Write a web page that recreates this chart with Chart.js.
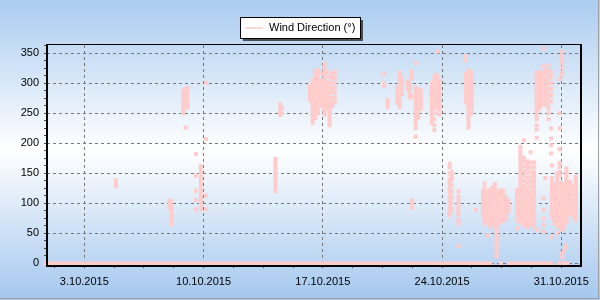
<!DOCTYPE html>
<html>
<head>
<meta charset="utf-8">
<script src="https://cdn.jsdelivr.net/npm/chart.js@4.4.1/dist/chart.umd.min.js"></script>
<style>
  html, body { margin: 0; padding: 0; background: #fff; }
  canvas { display: block; }
</style>
</head>
<body>
<canvas id="chart" width="600" height="300"></canvas>
<script>
// x = day of October 2015 (3 -> 3.10.2015 00:00)
const dateTicks = [3, 10, 17, 24, 31];
const dateLabels = ['3.10.2015', '10.10.2015', '17.10.2015', '24.10.2015', '31.10.2015'];
const directionTicks = [0, 50, 100, 150, 200, 250, 300, 350];
const seriesName = 'Wind Direction (°)';

// stretches where the vane reported 0°
const zeroRuns = [[0.5, 26.96], [27.32, 27.55], [27.81, 30.55], [30.73, 31.51]];

// readings grouped by time: [day, [degrees, ...]]
const firstHalf = [
    [4.85, [138, 133, 128]],
    [8.0, [104, 98, 92]],
    [8.1, [104, 98, 92, 86, 80, 74, 68, 65]],
    [8.8, [288, 282, 275, 268, 262, 255, 250]],
    [8.9, [290, 284, 278, 270, 264, 258]],
    [8.95, [226]],
    [9.05, [292, 286, 280, 273, 266, 260]],
    [9.55, [182, 146, 121, 105, 90]],
    [9.84, [162, 156, 150, 144, 138, 132, 126, 120, 114, 108, 102, 96, 90]],
    [10.14, [301, 207, 113, 90]],
    [14.22, [174, 168, 162, 156, 150, 144, 138, 132, 126, 120]],
    [14.5, [265, 259, 253, 247]],
    [14.6, [258, 250]],
    [16.25, [296, 290, 284, 278, 272]],
    [16.4, [306, 300, 294, 288, 282, 276, 270, 264, 258, 252, 246, 240, 234]],
    [16.55, [320, 314, 308, 302, 296, 290, 284, 278, 272, 266, 260, 254, 248, 242]],
    [16.7, [322, 316, 310, 304, 298, 292, 286, 280, 274, 268, 262, 256, 250]],
    [16.9, [316, 304, 298, 292, 286, 280, 274, 268, 262]],
    [17.1, [332, 326, 320, 314, 308, 302, 296, 290, 284, 278, 272, 266, 260, 254, 248]],
    [17.25, [318, 300, 294, 288, 282, 276, 270, 264, 258]],
    [17.4, [310, 300, 292, 284, 276, 270, 264, 258, 252, 246, 240, 234, 230]],
    [17.55, [316, 308, 300, 292, 286, 276, 268, 262]],
    [17.7, [320, 314, 308, 300, 292, 284, 276, 268]]
];

const secondHalf = [
    [20.6, [316, 300, 296]],
    [20.8, [272, 266, 260]],
    [21.38, [292, 286, 280, 274, 268]],
    [21.5, [318, 312, 306, 300, 294, 288, 282, 276, 270, 264, 260]],
    [21.65, [310, 304, 298, 290, 282]],
    [22.0, [303, 297, 290]],
    [22.1, [300, 295, 288, 282, 276]],
    [22.2, [320, 314, 308, 278]],
    [22.25, [105, 99, 92]],
    [22.45, [292, 286, 280, 274, 268, 262, 256, 250, 244, 238, 232, 225, 211]],
    [22.49, [334]],
    [22.6, [290, 284, 278, 272, 266, 260, 254, 248, 242]],
    [22.75, [288, 282, 276, 270, 264, 258]],
    [23.4, [300, 294, 288, 282, 276, 270, 264, 258, 252, 246, 240, 234]],
    [23.55, [312, 306, 300, 294, 288, 282, 276, 270, 264, 258, 250, 240, 230, 222]],
    [23.7, [314, 308, 302, 296, 290, 284, 278, 272, 266, 260]],
    [23.76, [353]],
    [23.85, [304, 298, 292, 286, 280, 274, 268, 262, 256, 248]],
    [24.45, [166, 160, 150, 140, 134, 128, 122, 116, 110, 104, 98, 92, 86, 80]],
    [24.58, [152, 146, 140, 130, 120, 110, 100, 90]],
    [24.96, [120, 111, 105, 99, 93, 87, 81, 72, 66, 29]],
    [25.4, [345, 338, 316, 310, 304, 298, 292, 286, 280, 274, 268]],
    [25.55, [322, 316, 310, 304, 298, 292, 286, 280, 274, 268, 262, 256, 250, 244, 238, 232, 226]],
    [25.75, [318, 312, 306, 300, 294, 288, 282, 276, 270, 264, 258, 250]],
    [25.98, [89]],
    [26.4, [120, 114, 108, 102, 96, 90, 84, 78]],
    [26.5, [133, 126, 120, 114, 108, 102, 96, 90, 84, 78, 72, 66]],
    [26.65, [118, 112, 106, 100, 94, 88, 82, 76, 70, 47]],
    [26.8, [122, 116, 110, 104, 98, 92, 86, 80, 74, 68, 62]],
    [26.95, [126, 120, 114, 108, 102, 96, 90, 84, 78, 72, 66]],
    [27.1, [132, 126, 120, 114, 108, 102, 96, 90, 84, 78, 72, 66, 60]],
    [27.2, [62, 56, 50, 44, 38, 33, 28, 22, 16, 11]],
    [27.3, [120, 114, 108, 102, 96, 90, 84, 78, 72, 66]],
    [27.45, [122, 116, 110, 104, 98, 92, 86, 80, 74, 68]],
    [27.6, [120, 114, 108, 102, 96, 90, 84, 78, 72]],
    [27.75, [110, 104, 98, 92, 86, 80, 74]],
    [27.9, [104, 98, 92, 86]],
    [28.4, [122, 116, 110, 104, 98, 92, 86, 80, 72, 58]],
    [28.6, [194, 188, 182, 176, 170, 164, 158, 152, 146, 140, 134, 128, 122, 116, 110, 104, 98, 92, 86, 80, 74, 68]],
    [28.8, [205, 176, 170, 162, 154, 146, 138, 130, 124, 118, 112, 106, 100, 94, 88, 82, 76, 70, 64]],
    [29.0, [170, 164, 158, 150, 142, 134, 126, 120, 114, 108, 102, 96, 90, 84, 78, 72, 66, 60]],
    [29.2, [185, 168, 160, 152, 144, 136, 128, 120, 112, 106, 100, 94, 88, 82, 76, 70, 64]],
    [29.4, [168, 160, 152, 146, 140, 134, 128, 122, 116, 110, 104, 98, 92, 86, 80, 74, 68, 62]],
    [29.55, [318, 312, 306, 300, 294, 288, 282, 276, 270, 264, 258, 252, 246, 240, 230, 223, 209, 56]],
    [29.7, [318, 312, 306, 300, 294, 288, 282, 276, 270, 264, 258]],
    [29.85, [318, 312, 306, 300, 294, 288, 282, 276, 270, 264]],
    [29.96, [358, 328, 316, 308, 300, 292, 284, 276, 268, 108, 89, 75, 64, 53]],
    [30.05, [142]],
    [30.1, [320, 312, 304, 296, 288, 280, 272, 264]],
    [30.25, [330, 322, 314, 306, 298, 290, 282, 274, 266, 258, 250, 240]],
    [30.4, [318, 310, 300, 290, 280, 270, 225, 208, 197, 183]],
    [30.45, [163, 142, 136, 130, 124, 118, 112, 106, 100, 94, 88, 82, 78, 44]],
    [30.6, [132, 126, 120, 114, 108, 102, 96, 90, 84, 78, 72, 66]],
    [30.75, [150, 144, 138, 132, 126, 120, 114, 108, 102, 96, 90, 84, 78, 72, 66, 61, 50]],
    [30.9, [307, 250, 225, 190, 167, 160, 152, 146]],
    [31.0, [134, 128, 122, 116, 110, 104, 98, 92, 86, 80, 74, 68, 62, 56]],
    [31.05, [353, 346, 340, 334, 326, 318, 314, 10, 16]],
    [31.15, [130, 124, 118, 112, 106, 100, 94, 88, 82, 76, 70, 64, 58, 20]],
    [31.25, [26, 30]],
    [31.3, [158, 152, 146, 140, 134, 128, 122, 116, 110, 104, 98, 92, 86, 80, 74, 68]],
    [31.5, [136, 130, 124, 118, 112, 106, 100, 94, 88, 82]],
    [31.7, [130, 122, 114, 106, 98, 90, 84, 78]],
    [31.85, [144, 138, 132, 126, 120, 114, 108, 102, 96, 90, 84, 78, 72]]
];

const pink = 'rgb(255, 204, 204)';
const X_MIN = 0.81, X_MAX = 32.155;
const Y_MIN = -2.83, Y_MAX = 363.8;

var points = [];
firstHalf.concat(secondHalf).forEach(function (col) {
    col[1].forEach(function (v) { points.push({x: col[0], y: v}); });
});

var zeroLine = [];
zeroRuns.forEach(function (run) {
    zeroLine.push({x: run[0], y: 0}, {x: run[1], y: 0}, {x: run[1], y: null});
});

// 4 sub-divisions between labelled ticks
var xTickValues = [];
for (var v = dateTicks[0] - 1.75; v <= X_MAX; v += 1.75) xTickValues.push(v);
var yTickValues = [];
for (var w = 0; w <= Y_MAX; w += 12.5) yTickValues.push(w);

Chart.defaults.font.family = '"Liberation Sans", Arial, sans-serif';
Chart.defaults.font.size = 11;
Chart.defaults.color = '#000';

// background gradient, plot frame and the boxed legend
var decor = {
    id: 'decor',
    beforeDraw: function (chart) {
        var ctx = chart.ctx;
        var g = ctx.createLinearGradient(0, 0, 0, 300);
        g.addColorStop(0, 'rgb(170, 204, 240)');
        g.addColorStop(0.5, 'rgb(255, 255, 255)');
        g.addColorStop(1, 'rgb(164, 199, 238)');
        ctx.save();
        ctx.fillStyle = g;
        ctx.fillRect(0, 0, 600, 300);
        ctx.restore();
    },
    afterDraw: function (chart) {
        var ctx = chart.ctx, a = chart.chartArea;
        ctx.save();
        ctx.fillStyle = '#000';
        ctx.fillRect(a.left - 1, a.top - 1, a.right - a.left + 2, 1);   // top
        ctx.fillRect(a.left - 1, a.top - 1, 2, a.bottom - a.top + 2);   // left
        ctx.fillRect(a.right - 1, a.top - 1, 2, a.bottom - a.top + 2);  // right
        ctx.fillRect(a.left - 1, a.bottom, a.right - a.left + 2, 2);    // bottom

        // legend box
        ctx.fillStyle = 'rgba(40, 40, 40, 0.8)';
        ctx.fillRect(243, 20, 120, 21);
        ctx.fillStyle = '#fff';
        ctx.fillRect(240, 17, 120, 21);
        ctx.strokeStyle = '#000';
        ctx.lineWidth = 1;
        ctx.strokeRect(240.5, 17.5, 120, 21);
        ctx.strokeStyle = pink;
        ctx.lineWidth = 1.5;
        ctx.beginPath();
        ctx.moveTo(245, 28);
        ctx.lineTo(263, 28);
        ctx.stroke();
        ctx.fillStyle = '#000';
        ctx.font = '11px "Liberation Sans", Arial, sans-serif';
        ctx.textBaseline = 'middle';
        ctx.fillText(seriesName, 269, 28);

        // outer frame
        ctx.fillStyle = 'rgb(160, 160, 160)';
        ctx.fillRect(598, 0, 1, 299);
        ctx.fillRect(0, 298, 599, 1);
        ctx.restore();
    }
};

var ctx = document.getElementById('chart').getContext('2d');
new Chart(ctx, {
    type: 'scatter',
    data: {
        datasets: [
            {
                label: seriesName,
                data: points,
                order: 0,
                pointStyle: 'rect',
                pointRadius: 2.83,
                pointBorderWidth: 0,
                backgroundColor: pink,
                borderColor: pink,
                showLine: false
            },
            {
                type: 'line',
                label: 'zero',
                data: zeroLine,
                order: 1,
                clip: 4,
                showLine: true,
                borderColor: pink,
                backgroundColor: pink,
                borderWidth: 4,
                borderCapStyle: 'butt',
                pointRadius: 0,
                spanGaps: false,
                tension: 0,
                fill: false
            }
        ]
    },
    options: {
        animation: false,
        responsive: false,
        events: [],
        layout: { padding: { left: 0, top: 45, right: 19, bottom: 0 } },
        plugins: { legend: { display: false }, tooltip: { enabled: false } },
        scales: {
            x: {
                type: 'linear',
                min: X_MIN,
                max: X_MAX,
                afterFit: function (s) { s.height = 35; },
                afterBuildTicks: function (s) {
                    s.ticks = xTickValues.map(function (v) { return {value: v}; });
                },
                border: { display: false, dash: [3, 3] },
                grid: {
                    color: function (c) {
                        return c.tick && dateTicks.indexOf(c.tick.value) >= 0 ? 'rgb(120, 120, 120)' : 'rgba(0,0,0,0)';
                    },
                    tickColor: 'rgb(70, 70, 70)',
                    tickWidth: 1,
                    tickLength: 3
                },
                ticks: {
                    autoSkip: false,
                    maxRotation: 0,
                    padding: 7,
                    callback: function (value) {
                        var i = dateTicks.indexOf(value);
                        return i >= 0 ? dateLabels[i] : '';
                    }
                }
            },
            y: {
                min: Y_MIN,
                max: Y_MAX,
                afterFit: function (s) { s.width = 47; },
                afterBuildTicks: function (s) {
                    s.ticks = yTickValues.map(function (v) { return {value: v}; });
                },
                border: { display: false, dash: [3, 3] },
                grid: {
                    color: function (c) {
                        return c.tick && directionTicks.indexOf(c.tick.value) >= 0 ? 'rgb(120, 120, 120)' : 'rgba(0,0,0,0)';
                    },
                    tickColor: 'rgb(70, 70, 70)',
                    tickWidth: 1,
                    tickLength: 3
                },
                ticks: {
                    autoSkip: false,
                    padding: 5,
                    callback: function (value) {
                        return directionTicks.indexOf(value) >= 0 ? String(value) : '';
                    }
                }
            }
        }
    },
    plugins: [decor]
});
</script>
</body>
</html>
